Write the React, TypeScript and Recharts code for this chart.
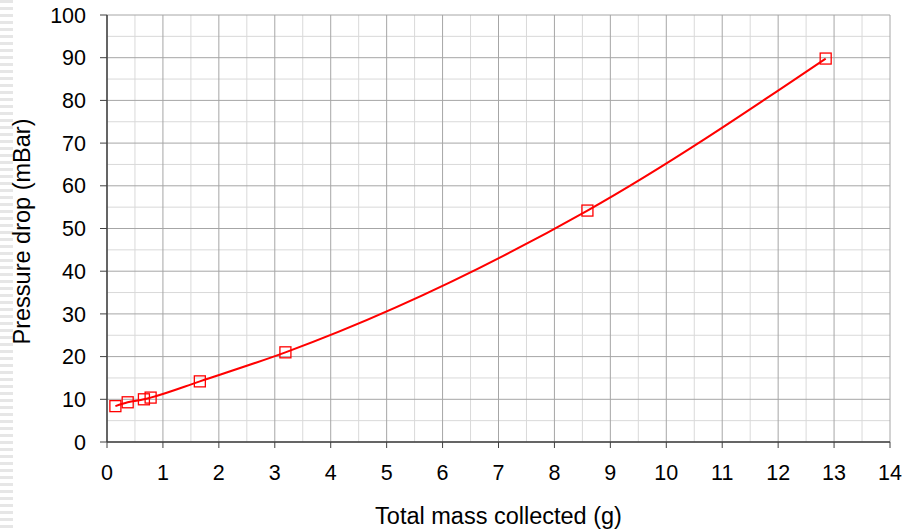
import React from 'react';
import {
  LineChart,
  Line,
  XAxis,
  YAxis,
  CartesianGrid,
} from 'recharts';

// measured points
const massCollected = [0.15, 0.37, 0.66, 0.78, 1.66, 3.19, 8.59, 12.85];
const pressureDrop = [8.4, 9.3, 10.0, 10.4, 14.2, 21.0, 54.2, 89.8];

const massTicks = [0, 1, 2, 3, 4, 5, 6, 7, 8, 9, 10, 11, 12, 13, 14];
const massMinorTicks = [
  0.5, 1.5, 2.5, 3.5, 4.5, 5.5, 6.5, 7.5, 8.5, 9.5, 10.5, 11.5, 12.5, 13.5,
];
const pressureTicks = [0, 10, 20, 30, 40, 50, 60, 70, 80, 90, 100];
const pressureMinorTicks = [5, 15, 25, 35, 45, 55, 65, 75, 85, 95];

const data = massCollected.map((m, i) => ({ mass: m, pressure: pressureDrop[i] }));

const FONT = '"Liberation Sans", Arial, sans-serif';
const AXIS_COLOR = '#404040';
const TICK_FONT = 21.5;
const TITLE_FONT = 23.5;

const SquareDot = (props: any) => {
  const { cx, cy } = props;
  if (cx == null || cy == null) return null;
  const s = 11;
  return (
    <rect
      x={cx - s / 2}
      y={cy - s / 2}
      width={s}
      height={s}
      fill="none"
      stroke="#ff0000"
      strokeWidth={1.3}
    />
  );
};

const App: React.FC = () => {
  return (
    <div
      style={{
        position: 'absolute',
        left: 0,
        top: 0,
        width: 906,
        height: 531,
        background: '#fff',
        fontFamily: FONT,
      }}
    >
      <div
        style={{
          position: 'absolute',
          left: 0,
          top: 0,
          width: 13,
          height: 531,
          background:
            'repeating-linear-gradient(to bottom, #e6e6e6 0px, #e6e6e6 3px, #ffffff 3px, #ffffff 7px)',
        }}
      />
      <LineChart
        width={906}
        height={531}
        data={data}
        margin={{ top: 15, right: 16, left: 0, bottom: 0 }}
        style={{ position: 'absolute', left: 0, top: 0 }}
      >
        {/* light half-step grid, then the darker unit grid on top */}
        <CartesianGrid
          stroke="#d9d9d9"
          strokeWidth={1}
          verticalValues={massMinorTicks}
          horizontalValues={pressureMinorTicks}
        />
        <CartesianGrid stroke="#a6a6a6" strokeWidth={1} />
        <XAxis
          type="number"
          dataKey="mass"
          domain={[0, 14]}
          ticks={massTicks}
          interval={0}
          height={89}
          tickSize={6}
          tickMargin={17}
          axisLine={{ stroke: AXIS_COLOR, strokeWidth: 1.5 }}
          tickLine={{ stroke: AXIS_COLOR }}
          tick={{ fontSize: TICK_FONT, fill: '#000', fontFamily: FONT }}
          label={{
            value: 'Total mass collected (g)',
            position: 'insideBottom',
            offset: 7,
            style: { fontSize: TITLE_FONT, fill: '#000', fontFamily: FONT },
          }}
        />
        <YAxis
          type="number"
          domain={[0, 100]}
          ticks={pressureTicks}
          interval={0}
          width={107}
          tickSize={7}
          tickMargin={14}
          axisLine={{ stroke: AXIS_COLOR, strokeWidth: 1.5 }}
          tickLine={{ stroke: AXIS_COLOR }}
          tick={{ fontSize: TICK_FONT, fill: '#000', fontFamily: FONT }}
          label={{
            value: 'Pressure drop (mBar)',
            angle: -90,
            position: 'insideLeft',
            offset: 22,
            dy: 3,
            style: { fontSize: TITLE_FONT, fill: '#000', fontFamily: FONT, textAnchor: 'middle' },
          }}
        />
        <Line
          type="monotone"
          dataKey="pressure"
          stroke="#ff0000"
          strokeWidth={2}
          dot={<SquareDot />}
          activeDot={false}
          isAnimationActive={false}
        />
      </LineChart>
    </div>
  );
};

export default App;
